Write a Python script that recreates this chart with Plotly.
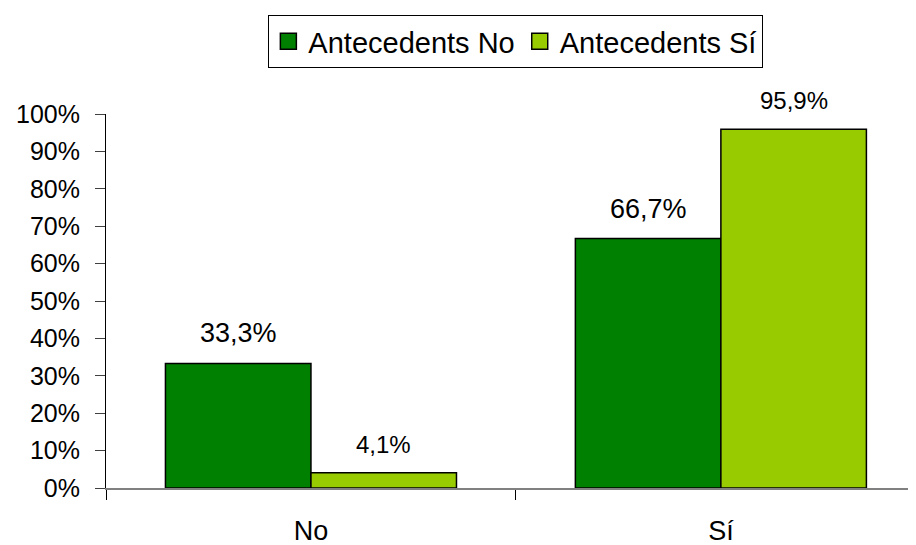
import plotly.graph_objects as go

categories = ["No", "Sí"]
series_names = ["Antecedents No", "Antecedents Sí"]
antecedents_no = [0.333, 0.667]
antecedents_si = [0.041, 0.959]
labels_no = ["33,3%", "66,7%"]
labels_si = ["4,1%", "95,9%"]
label_sizes_no = [27, 27]
label_sizes_si = [24, 24]
y_ticks = [0, 0.1, 0.2, 0.3, 0.4, 0.5, 0.6, 0.7, 0.8, 0.9, 1.0]
y_tick_labels = ["0%", "10%", "20%", "30%", "40%", "50%", "60%", "70%", "80%", "90%", "100%"]

FONT = "Liberation Sans, Arial, sans-serif"
BARGAP = 0.29
colors = ["#008000", "#99CC00"]

fig = go.Figure()
for name, vals, col in zip(series_names, [antecedents_no, antecedents_si], colors):
    fig.add_trace(go.Bar(
        x=categories, y=vals, name=name, legendgroup=name, showlegend=False,
        marker=dict(color=col, line=dict(color="#000000", width=1.5)),
    ))
# legend-only entries with larger square swatches
for name, col in zip(series_names, colors):
    fig.add_trace(go.Scatter(
        x=[None], y=[None], mode="markers", name=name, legendgroup=name,
        marker=dict(symbol="square", size=16, color=col, line=dict(color="#000000", width=1.5)),
        hoverinfo="skip",
    ))

offset = (1 - BARGAP) / 4
annotations = []
for si, (vals, labs, sizes) in enumerate([(antecedents_no, labels_no, label_sizes_no),
                                           (antecedents_si, labels_si, label_sizes_si)]):
    for ci, (v, lab, sz) in enumerate(zip(vals, labs, sizes)):
        annotations.append(dict(
            x=ci + (-offset if si == 0 else offset), y=v, xref="x", yref="y",
            text=lab, showarrow=False, yanchor="bottom", yshift=13,
            font=dict(family=FONT, size=sz, color="#000000"),
        ))

# page body adds an 8px offset, so the figure is sized/margined to compensate
fig.update_layout(
    width=908, height=537,
    margin=dict(l=98, r=0, t=106, b=57, autoexpand=False),
    paper_bgcolor="white", plot_bgcolor="white",
    barmode="group", bargap=BARGAP, bargroupgap=0,
    font=dict(family=FONT, color="#000000"),
    annotations=annotations,
    showlegend=True,
    legend=dict(
        orientation="h", x=0.506, xanchor="center", y=1.2647, yanchor="top",
        bgcolor="white", bordercolor="#000000", borderwidth=1,
        font=dict(family=FONT, size=29, color="#000000"),
        itemwidth=30, tracegroupgap=0, itemsizing="trace",
    ),
    xaxis=dict(
        type="category", range=[-0.5, 1.476], automargin=False,
        showline=True, linecolor="#808080", linewidth=1.5,
        ticks="outside", tickson="boundaries", ticklen=10, tickcolor="#000000",
        tickfont=dict(family=FONT, size=27, color="#000000"),
        ticklabelstandoff=18,
        showgrid=False, zeroline=False,
    ),
    yaxis=dict(
        range=[0, 1], tickvals=y_ticks, ticktext=y_tick_labels, automargin=False,
        showline=True, linecolor="#000000", linewidth=1,
        ticks="outside", ticklen=10, tickcolor="#404040",
        tickfont=dict(family=FONT, size=25, color="#000000"),
        ticklabelstandoff=10,
        showgrid=False, zeroline=False,
    ),
)

fig.write_html("out.html")
